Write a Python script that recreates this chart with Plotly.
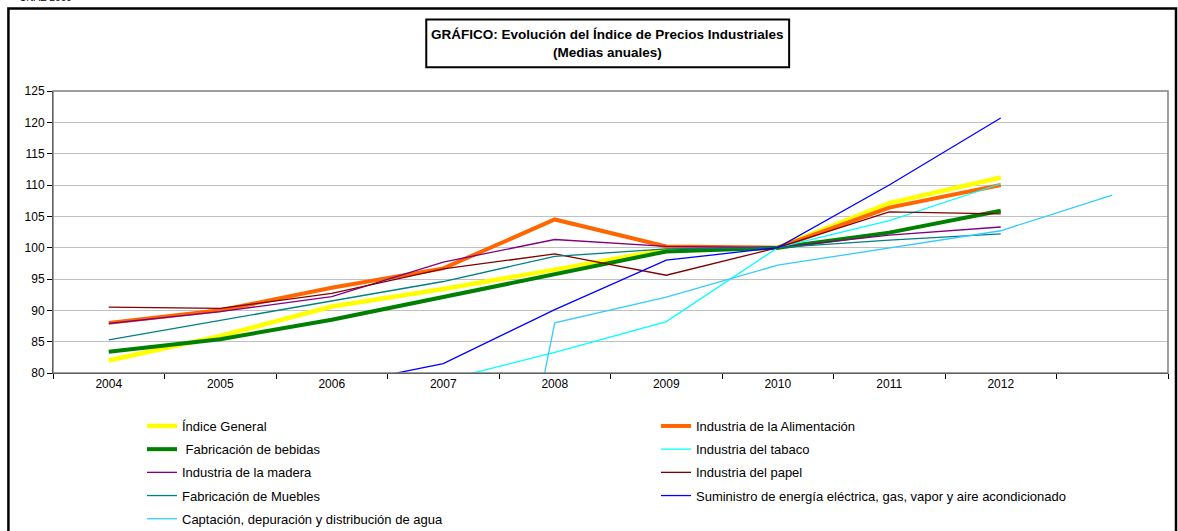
import plotly.graph_objects as go

W, H = 1178, 531

years = ["2004", "2005", "2006", "2007", "2008", "2009", "2010", "2011", "2012", " "]

general = [82.0, 85.9, 90.6, 93.4, 96.5, 99.7, 100.0, 107.1, 111.2]
alimentacion = [88.0, 90.0, 93.6, 96.7, 104.5, 100.2, 100.0, 106.4, 110.0]
bebidas = [83.4, 85.4, 88.5, 92.1, 95.7, 99.4, 100.0, 102.4, 105.9]
tabaco = [72.0, 74.5, 76.5, 78.8, 83.3, 88.2, 100.0, 104.3, 110.2]
madera = [87.9, 89.8, 92.2, 97.7, 101.3, 100.2, 100.0, 102.0, 103.3]
papel = [90.5, 90.3, 92.7, 96.6, 99.0, 95.6, 100.0, 105.7, 105.4]
muebles = [85.3, 88.4, 91.4, 94.6, 98.6, 99.8, 100.0, 101.2, 102.2]
energia = [72.0, 75.0, 77.9, 81.5, 90.1, 98.0, 100.0, 110.0, 120.7]
captacion = [0.0, 0.0, 0.0, 0.0, 88.0, 92.1, 97.2, 100.0, 102.7, 108.4]

series = [
    ("Índice General", general, "#FFFF00", 4.5, "legend"),
    ("Industria de la Alimentación", alimentacion, "#FF6600", 4, "legend2"),
    (" Fabricación de bebidas", bebidas, "#008000", 4, "legend"),
    ("Industria del tabaco", tabaco, "#00FFFF", 1.3, "legend2"),
    ("Industria de la madera", madera, "#800080", 1.3, "legend"),
    ("Industria del papel", papel, "#800000", 1.3, "legend2"),
    ("Fabricación de Muebles", muebles, "#008080", 1.3, "legend"),
    ("Suministro de energía eléctrica, gas, vapor y aire acondicionado", energia, "#0000FF", 1.3, "legend2"),
    ("Captación, depuración y distribución de agua", captacion, "#33CCFF", 1.3, "legend"),
]

fig = go.Figure()
for i, (name, vals, color, width, leg) in enumerate(series):
    fig.add_trace(go.Scatter(
        x=years[:len(vals)], y=vals, name=name, mode="lines",
        line=dict(color=color, width=width),
        legend=leg, legendgroup="g%d" % i,
    ))

L, R, T, B = 52.6, 1168, 90.7, 373.3
pw, ph = R - L, B - T


def px(xp):
    return (xp - L) / pw


def py(yp):
    return (B - yp) / ph


font = "Liberation Sans, Arial, sans-serif"

fig.update_layout(
    width=W, height=H,
    margin=dict(l=L, r=W - R, t=T, b=H - B, autoexpand=False),
    paper_bgcolor="white", plot_bgcolor="white",
    font=dict(family=font, size=12, color="black"),
    showlegend=True,
    xaxis=dict(
        type="category", categoryorder="array", categoryarray=years,
        range=[-0.5, 9.5], tickson="boundaries", ticks="outside", ticklen=5,
        tickcolor="black", showline=True, linecolor="black", linewidth=1,
        showgrid=False, zeroline=False, tickfont=dict(size=12), fixedrange=True,
    ),
    yaxis=dict(
        range=[80, 125], dtick=5, tick0=80, ticks="outside", ticklen=5,
        tickcolor="black", showline=True, linecolor="black", linewidth=1,
        showgrid=True, gridcolor="#C0C0C0", gridwidth=1, zeroline=False,
        tickfont=dict(size=12),
    ),
    legend=dict(
        xref="container", yref="container", x=142 / W, y=1 - 411 / H,
        xanchor="left", yanchor="top", orientation="v",
        tracegroupgap=3.3, font=dict(size=13, family=font),
        bgcolor="rgba(0,0,0,0)", traceorder="grouped",
    ),
    legend2=dict(
        xref="container", yref="container", x=656 / W, y=1 - 411 / H,
        xanchor="left", yanchor="top", orientation="v",
        tracegroupgap=3.3, font=dict(size=13, family=font),
        bgcolor="rgba(0,0,0,0)", traceorder="grouped",
    ),
    shapes=[
        dict(type="rect", xref="paper", yref="paper", x0=px(8), x1=px(1176),
             y0=py(540), y1=py(8), line=dict(color="black", width=2.5), layer="below"),
        dict(type="rect", xref="paper", yref="paper", x0=0, x1=1, y0=0, y1=1,
             line=dict(color="#808080", width=1.5), layer="above"),
        dict(type="rect", xref="paper", yref="paper", x0=px(426), x1=px(789),
             y0=py(67), y1=py(19), line=dict(color="black", width=2)),
    ],
    annotations=[
        dict(text="<b>GRÁFICO: Evolución del Índice de Precios Industriales</b><br><b>(Medias anuales)</b>",
             xref="paper", yref="paper", x=px(607.5), y=py(43.5), xanchor="center",
             yanchor="middle", showarrow=False, font=dict(size=13.5, family=font)),
        dict(text="CNAE 2009", xref="paper", yref="paper", x=px(17), y=py(-3),
             xanchor="left", yanchor="middle", showarrow=False,
             font=dict(size=10, family=font)),
    ],
)

fig.write_html(
    "out.html",
    config={"displayModeBar": False},
    post_script="document.body.style.margin='0';document.body.style.overflow='hidden';",
)
